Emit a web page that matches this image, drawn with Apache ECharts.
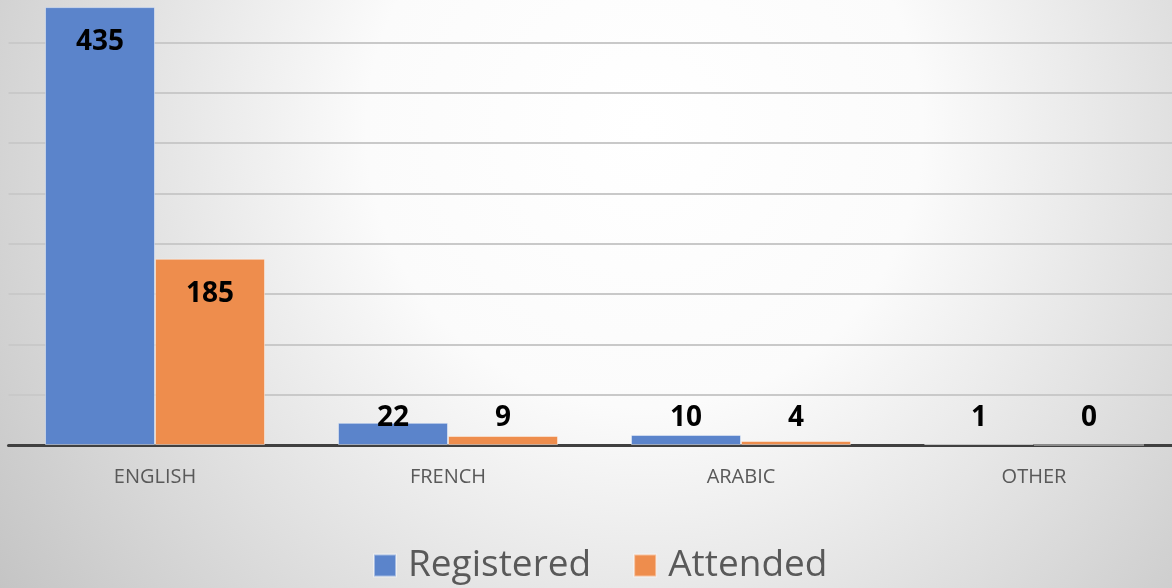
<!DOCTYPE html>
<html>
<head>
<meta charset="utf-8">
<script src="https://cdn.jsdelivr.net/npm/echarts@6/dist/echarts.min.js"></script>
<style>
html,body{margin:0;padding:0;}
#chart{width:1172px;height:588px;}
</style>
</head>
<body>
<div id="chart"></div>
<script>
const categories = ['ENGLISH', 'FRENCH', 'ARABIC', 'OTHER'];
const registered = [435, 22, 10, 1];
const attended = [185, 9, 4, 0];
const seriesNames = ['Registered', 'Attended'];

const labelFont = { fontFamily: 'Open Sans', fontWeight: 'bold', fontSize: 28, color: '#000000' };

function toItems(values) {
  return values.map(v => ({
    value: v,
    label: v >= 100
      ? Object.assign({ show: true, position: 'insideTop', distance: 21 }, labelFont)
      : Object.assign({ show: true, position: 'insideBottom', distance: 13 }, labelFont)
  }));
}

const chart = echarts.init(document.getElementById('chart'), null, { renderer: 'canvas' });
chart.setOption({
  animation: false,
  backgroundColor: {
    type: 'radial', x: 0.55, y: 0.22, r: 1.35,
    colorStops: [
      { offset: 0, color: '#ffffff' },
      { offset: 0.35, color: '#fbfbfb' },
      { offset: 1, color: '#c4c4c4' }
    ]
  },
  grid: { left: 8.5, right: -8.5, top: -8, bottom: 143, containLabel: false, outerBoundsMode: 'none' },
  xAxis: {
    type: 'category',
    data: categories,
    axisLine: { show: true, lineStyle: { color: '#404040', width: 3 } },
    axisTick: { show: false },
    axisLabel: { color: '#595959', fontFamily: 'Open Sans', fontSize: 20, margin: 22 }
  },
  yAxis: {
    type: 'value',
    min: 0, max: 450, interval: 50,
    axisLabel: { show: false },
    axisLine: { show: false },
    axisTick: { show: false },
    splitLine: { lineStyle: { color: '#c9c9c9', width: 2 } }
  },
  legend: {
    data: seriesNames,
    top: 542,
    left: 368,
    icon: 'rect',
    itemWidth: 22,
    itemHeight: 22,
    itemGap: 42,
    textStyle: { color: '#595959', fontFamily: 'Open Sans', fontSize: 37, padding: [0, 0, 0, 7] }
  },
  series: [
    {
      name: seriesNames[0], type: 'bar', data: toItems(registered),
      barGap: '0%', barCategoryGap: '24.9%',
      itemStyle: { color: '#5b84cb', borderColor: 'rgba(255,255,255,0.45)', borderWidth: 1 }
    },
    {
      name: seriesNames[1], type: 'bar', data: toItems(attended),
      itemStyle: { color: '#ee8d4d', borderColor: 'rgba(255,255,255,0.45)', borderWidth: 1 }
    }
  ]
});
</script>
</body>
</html>
